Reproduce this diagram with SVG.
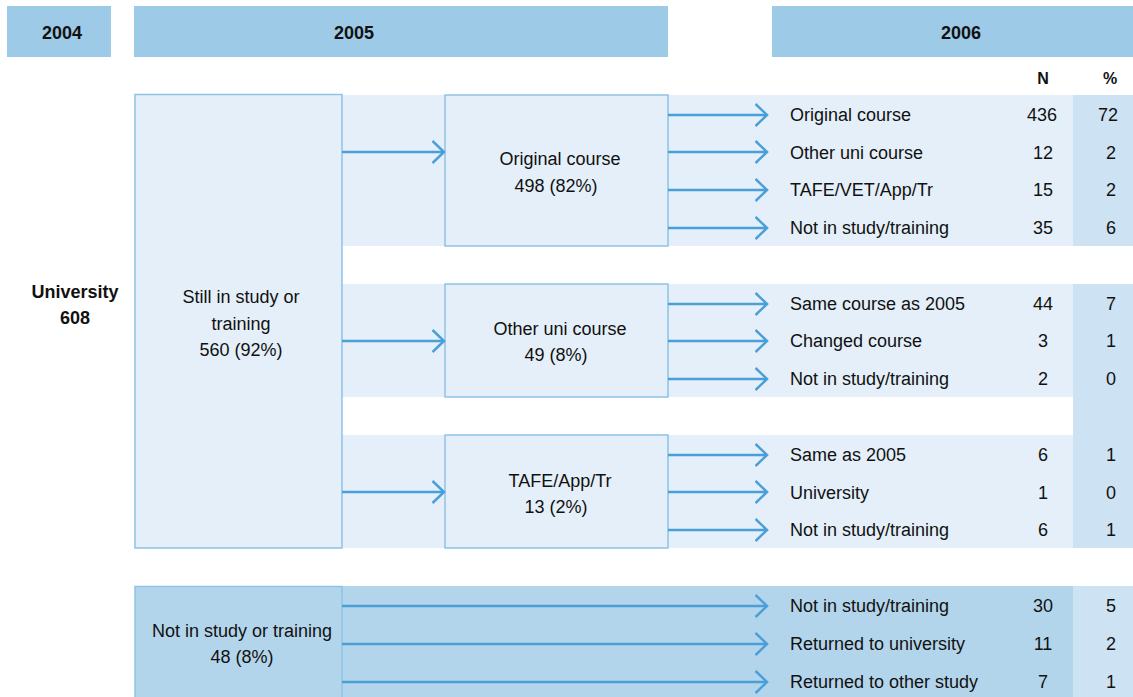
<svg xmlns="http://www.w3.org/2000/svg" width="1133" height="697" viewBox="0 0 1133 697">
<defs>
<style>
.hdr{fill:#9dcae7}
.band{fill:#e4eff9}
.pct{fill:#cde3f3}
.dark{fill:#b3d5eb}
.box{fill:#e4eff9;stroke:#8ec3e6;stroke-width:1.5}
.boxd{fill:#b3d5eb;stroke:#8ec3e6;stroke-width:1.5}
text{font-family:"Liberation Sans",Arial,sans-serif;font-size:18px;fill:#111}
.b{font-weight:bold}
.c{text-anchor:middle}
.conn line{stroke:#4a9fd8;stroke-width:2.5;marker-end:url(#ah)}
</style>
<marker id="ah" viewBox="0 0 14 24" refX="12.5" refY="12" markerWidth="14" markerHeight="24" markerUnits="userSpaceOnUse" orient="auto">
<path d="M1,1 L12.5,12 L1,23" fill="none" stroke="#4a9fd8" stroke-width="2.5"/>
</marker>
</defs>

<g id="headers">
<rect class="hdr" x="7" y="6" width="104" height="51"/>
<rect class="hdr" x="134" y="6" width="534" height="51"/>
<rect class="hdr" x="772" y="6" width="361" height="51"/>
<text class="b c" x="62" y="39">2004</text>
<text class="b c" x="354" y="39">2005</text>
<text class="b c" x="961" y="39">2006</text>
<text class="b c" x="1043" y="84" style="font-size:16px">N</text>
<text class="b c" x="1110" y="84" style="font-size:16px">%</text>
</g>

<g id="bands">
<rect class="band" x="342" y="95" width="791" height="151"/>
<rect class="band" x="342" y="284" width="791" height="113"/>
<rect class="band" x="342" y="435" width="791" height="113"/>
<rect class="pct" x="1073" y="95" width="60" height="151"/>
<rect class="pct" x="1073" y="284" width="60" height="264"/>
<rect class="dark" x="342" y="586" width="791" height="111"/>
<rect class="pct" x="1073" y="586" width="60" height="111"/>
</g>

<g id="university">
<text class="b c" x="75" y="298">University</text>
<text class="b c" x="75" y="324">608</text>
</g>

<g id="still">
<rect class="box" x="135" y="94.5" width="207" height="453.5"/>
<text class="c" x="241" y="303">Still in study or</text>
<text class="c" x="241" y="330">training</text>
<text class="c" x="241" y="356">560 (92%)</text>
</g>

<g id="notin">
<rect class="boxd" x="135" y="586.5" width="207" height="112"/>
<text class="c" x="242" y="637">Not in study or training</text>
<text class="c" x="242" y="663">48 (8%)</text>
</g>

<g id="orig">
<rect class="box" x="445" y="95" width="223" height="151"/>
<text class="c" x="560" y="165">Original course</text>
<text class="c" x="556" y="192">498 (82%)</text>
</g>

<g id="otheruni">
<rect class="box" x="445" y="284" width="223" height="113"/>
<text class="c" x="560" y="335">Other uni course</text>
<text class="c" x="556" y="361">49 (8%)</text>
</g>

<g id="tafe">
<rect class="box" x="445" y="435" width="223" height="113"/>
<text class="c" x="560" y="487">TAFE/App/Tr</text>
<text class="c" x="556" y="513">13 (2%)</text>
</g>

<g class="conn" id="connectors">
<line x1="342" y1="152" x2="444" y2="152"/>
<line x1="342" y1="341" x2="444" y2="341"/>
<line x1="342" y1="492" x2="444" y2="492"/>
<line x1="668" y1="115" x2="767" y2="115"/>
<line x1="668" y1="152" x2="767" y2="152"/>
<line x1="668" y1="190" x2="767" y2="190"/>
<line x1="668" y1="228" x2="767" y2="228"/>
<line x1="668" y1="304" x2="767" y2="304"/>
<line x1="668" y1="341" x2="767" y2="341"/>
<line x1="668" y1="379" x2="767" y2="379"/>
<line x1="668" y1="455" x2="767" y2="455"/>
<line x1="668" y1="492" x2="767" y2="492"/>
<line x1="668" y1="530" x2="767" y2="530"/>
<line x1="342" y1="606" x2="767" y2="606"/>
<line x1="342" y1="644" x2="767" y2="644"/>
<line x1="342" y1="682" x2="767" y2="682"/>
</g>

<g id="rows">
<text x="790" y="121">Original course</text><text class="c" x="1042" y="121">436</text><text class="c" x="1108" y="121">72</text>
<text x="790" y="159">Other uni course</text><text class="c" x="1043" y="159">12</text><text class="c" x="1111" y="159">2</text>
<text x="790" y="196">TAFE/VET/App/Tr</text><text class="c" x="1043" y="196">15</text><text class="c" x="1111" y="196">2</text>
<text x="790" y="234">Not in study/training</text><text class="c" x="1043" y="234">35</text><text class="c" x="1111" y="234">6</text>
<text x="790" y="310">Same course as 2005</text><text class="c" x="1043" y="310">44</text><text class="c" x="1111" y="310">7</text>
<text x="790" y="347">Changed course</text><text class="c" x="1043" y="347">3</text><text class="c" x="1111" y="347">1</text>
<text x="790" y="385">Not in study/training</text><text class="c" x="1043" y="385">2</text><text class="c" x="1111" y="385">0</text>
<text x="790" y="461">Same as 2005</text><text class="c" x="1043" y="461">6</text><text class="c" x="1111" y="461">1</text>
<text x="790" y="499">University</text><text class="c" x="1043" y="499">1</text><text class="c" x="1111" y="499">0</text>
<text x="790" y="536">Not in study/training</text><text class="c" x="1043" y="536">6</text><text class="c" x="1111" y="536">1</text>
<text x="790" y="612">Not in study/training</text><text class="c" x="1043" y="612">30</text><text class="c" x="1111" y="612">5</text>
<text x="790" y="650">Returned to university</text><text class="c" x="1043" y="650">11</text><text class="c" x="1111" y="650">2</text>
<text x="790" y="688">Returned to other study</text><text class="c" x="1043" y="688">7</text><text class="c" x="1111" y="688">1</text>
</g>
</svg>
